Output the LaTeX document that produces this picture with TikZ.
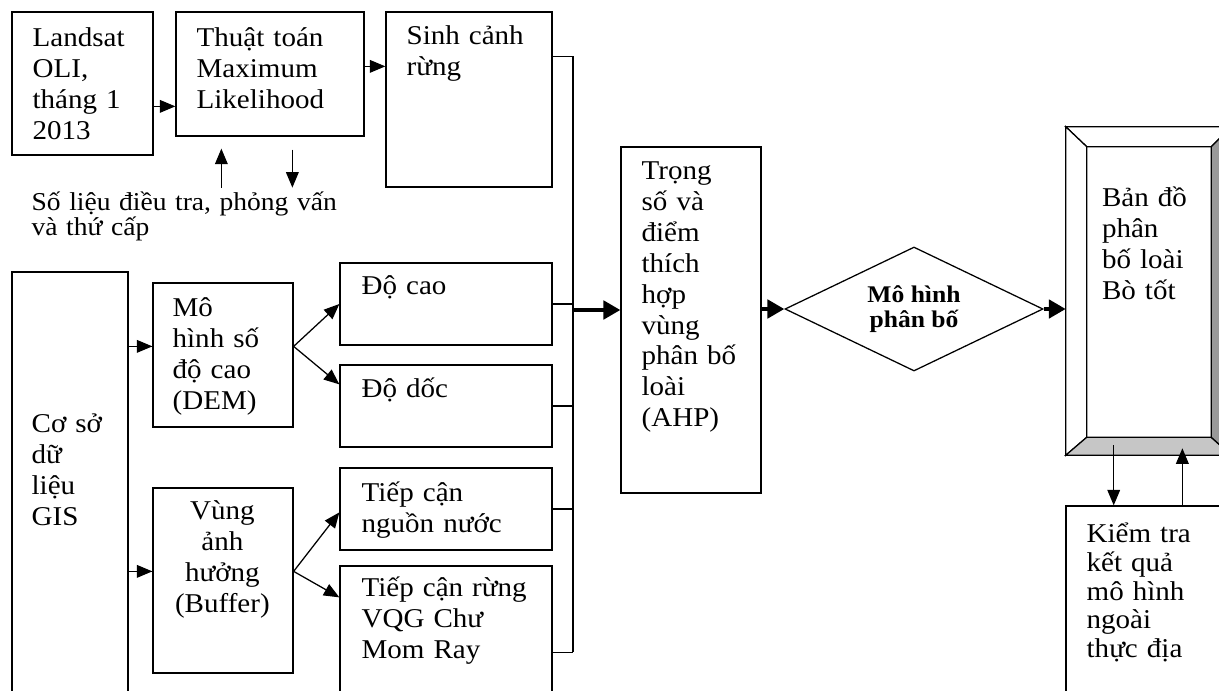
\documentclass[tikz,border=0pt]{standalone}
\usepackage{fontspec}
\setmainfont{Liberation Serif}[FakeStretch=1.07]
\usetikzlibrary{arrows.meta,positioning,shapes.geometric,fit,calc}

\begin{document}
\begin{tikzpicture}[x=0.025cm, y=-0.025cm,
  every node/.style={inner sep=0pt},
  box/.style={draw, line width=0.9pt},
  txt/.style={font=\fontsize{19.3}{22}\selectfont, text width=6cm, align=left, anchor=base west},
  note/.style={font=\fontsize{18.3}{18}\selectfont, text width=9cm, align=left, anchor=base west},
  link/.style={line width=0.9pt},
  arr/.style={line width=0.9pt, -{Triangle[length=11pt,width=9pt]}},
  bigarr/.style={line width=2.8pt, -{Triangle[length=12pt,width=13pt]}}]
\useasboundingbox (0,0) rectangle (1219,691);
\clip (0,0) rectangle (1219,691);
\fill[white] (0,0) rectangle (1219,691);

% boxes
\node[box, fit={(12,12) (153,155)}] (landsat) {};
\node[box, fit={(176,12) (364,136)}] (thuat) {};
\node[box, fit={(386,12) (552,187)}] (sinh) {};
\node[box, fit={(12,272) (128,700)}] (coso) {};
\node[box, fit={(153,283) (293,427)}] (dem) {};
\node[box, fit={(153,488) (293,673)}] (buffer) {};
\node[box, fit={(340,263) (552,345)}] (docao) {};
\node[box, fit={(340,365) (552,447)}] (dodoc) {};
\node[box, fit={(340,468) (552,550)}] (nuoc) {};
\node[box, fit={(340,566) (552,700)}] (rung) {};
\node[box, fit={(621,147) (761,493)}] (ahp) {};
\node[box, diamond, aspect=2, minimum width=6.45cm, minimum height=3.1cm,
  font=\fontsize{17}{17.5}\selectfont\bfseries, align=center] (model) at (914,309) {Mô hình\\phân bố};
\node[fit={(1066,127) (1231,455)}] (map) {};
\node[fit={(1087,147) (1211,437)}] (mapin) {};
\node[box, fit={(1066,506) (1235,700)}] (kiem) {};

% bevelled frame
\filldraw[link, fill=white] (map.north west) -- (map.north east) -- (mapin.north east) -- (mapin.north west) -- cycle;
\filldraw[link, fill=white] (map.north west) -- (mapin.north west) -- (mapin.south west) -- (map.south west) -- cycle;
\filldraw[link, fill=gray!45] (map.south west) -- (mapin.south west) -- (mapin.south east) -- (map.south east) -- cycle;
\filldraw[link, fill=gray!80] (map.north east) -- (mapin.north east) -- (mapin.south east) -- (map.south east) -- cycle;

% texts
\node[txt] at ($(landsat.north west)+(21,35)$) {Landsat\\OLI,\\tháng 1\\2013};
\node[txt] at ($(thuat.north west)+(21,35)$) {Thuật toán\\Maximum\\Likelihood};
\node[txt] at ($(sinh.north west)+(21,33)$) {Sinh cảnh\\rừng};
\node[note] (solieu) at ($(landsat.south west)+(20,55)$) {Số liệu điều tra, phỏng vấn\\và thứ cấp};
\node[txt] at ($(coso.north west)+(20,161)$) {Cơ sở\\dữ\\liệu\\GIS};
\node[txt] at ($(dem.north west)+(20,34)$) {Mô\\hình số\\độ cao\\(DEM)};
\node[txt, text width=3.5cm, align=center, anchor=base] at ($(buffer.north west)+(70,32)$) {Vùng\\ảnh\\hưởng\\(Buffer)};
\node[txt] at ($(docao.north west)+(22,32)$) {Độ cao};
\node[txt] at ($(dodoc.north west)+(22,33)$) {Độ dốc};
\node[txt] at ($(nuoc.north west)+(22,34)$) {Tiếp cận\\nguồn nước};
\node[txt] at ($(rung.north west)+(22,31)$) {Tiếp cận rừng\\VQG Chư\\Mom Ray};
\node[txt] at ($(ahp.north west)+(21,33)$) {Trọng\\số và\\điểm\\thích\\hợp\\vùng\\phân bố\\loài\\(AHP)};
\node[txt] at ($(map.north west)+(36,80)$) {Bản đồ\\phân\\bố loài\\Bò tốt};
\node[txt, font=\fontsize{19.3}{20.5}\selectfont] at ($(kiem.north west)+(21,37)$) {Kiểm tra\\kết quả\\mô hình\\ngoài\\thực địa};

% arrows, top row
\draw[arr] ($(landsat.north east)+(0,95)$) coordinate (a1) -- (a1 -| thuat.west);
\draw[arr] ($(thuat.north east)+(0,55)$) coordinate (a2) -- (a2 -| sinh.west);
\draw[arr] ($(thuat.south west)+(46,51)$) coordinate (u0) -- ++(0,-39);
\draw[arr] ($(thuat.south west)+(117,13)$) coordinate (d0) -- ++(0,38);

% arrows, GIS branch
\draw[arr] ($(dem.north west)+(0,64)$) coordinate (c1) -- (c1 -| coso.east) (c1 -| coso.east) -- (c1);
\draw[arr] ($(buffer.north west)+(0,84)$) coordinate (c2) -- (c2 -| coso.east) (c2 -| coso.east) -- (c2);
\draw[arr] (c1 -| dem.east) -- (docao.west);
\draw[arr] (c1 -| dem.east) -- ($(dodoc.north west)+(0,20)$);
\draw[arr] (c2 -| buffer.east) -- ($(nuoc.north west)+(0,45)$);
\draw[arr] (c2 -| buffer.east) -- ($(rung.north west)+(0,32)$);

% collecting line
\coordinate (bus) at (573,310);
\draw[link] ($(sinh.north east)+(0,45)$) coordinate (s1) -- (s1 -| bus);
\draw[link] (docao.east) -- (docao.east -| bus);
\draw[link] (dodoc.east) -- (dodoc.east -| bus);
\draw[link] (nuoc.east) -- (nuoc.east -| bus);
\draw[link] ($(rung.north east)+(0,87)$) coordinate (r1) -- (r1 -| bus);
\draw[link] (s1 -| bus) -- (r1 -| bus);

% main flow
\draw[bigarr] (bus) -- (bus -| ahp.west);
\draw[bigarr] (model.west -| ahp.east) -- (model.west);
\draw[bigarr] (model.east) -- (model.east -| map.west);
\draw[arr] ($(map.south west)+(48,-10)$) coordinate (d1) -- (d1 |- kiem.north);
\draw[arr] ($(kiem.north west)+(117,0)$) coordinate (u1) -- ($(u1 |- map.south)+(0,-7)$);
\end{tikzpicture}
\end{document}
